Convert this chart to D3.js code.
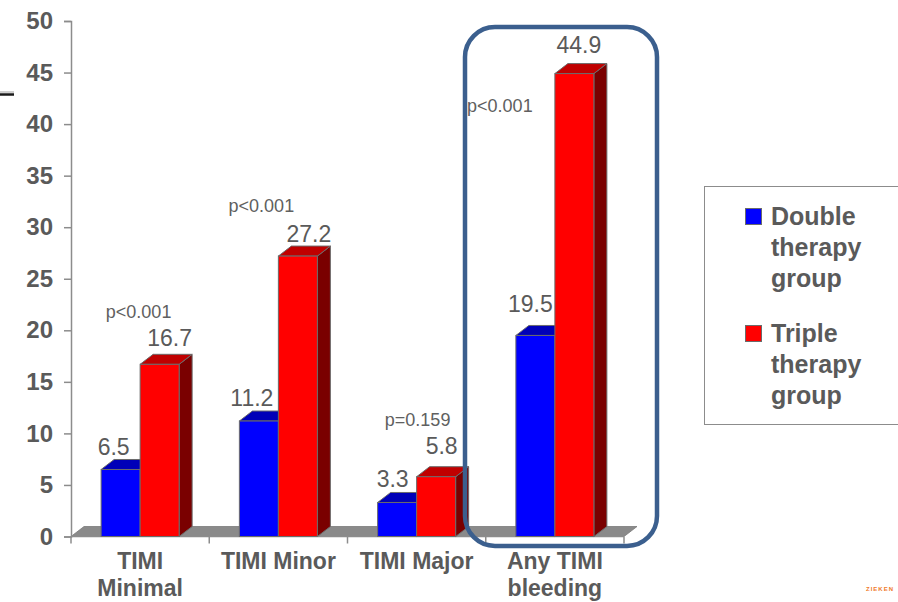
<!DOCTYPE html>
<html>
<head>
<meta charset="utf-8">
<script src="https://cdn.jsdelivr.net/npm/d3@7"></script>
<style>
  html, body { margin: 0; padding: 0; background: #fff; }
  svg { display: block; font-family: "Liberation Sans", Arial, Helvetica, sans-serif; }
</style>
</head>
<body>
<svg id="chart" width="898" height="602"></svg>
<script>
// Bleeding endpoints (%) by treatment group
const categories = [["TIMI", "Minimal"], ["TIMI Minor"], ["TIMI Major"], ["Any TIMI", "bleeding"]];
const doubleTherapy = [6.5, 11.2, 3.3, 19.5];
const tripleTherapy = [16.7, 27.2, 5.8, 44.9];
const pValues = ["p<0.001", "p<0.001", "p=0.159", "p<0.001"];
const yTicks = [0, 5, 10, 15, 20, 25, 30, 35, 40, 45, 50];
const seriesNames = [["Double", "therapy", "group"], ["Triple", "therapy", "group"]];

// Layout constants
const W = 898, H = 602;
const x0 = 71, x1 = 624, yTop = 21, yBase = 536.5;
const depth = { dx: 13, dy: -10 };
const barW = 39;
const textGray = "#5a5a5a";
const colors = {
  double: { front: "#0000ff", top: "#0000b8", side: "#00007a" },
  triple: { front: "#ff0000", top: "#c00000", side: "#7a0000" }
};
// value-label placement (lift above bar top, horizontal nudge)
const labelLift = { double: [14, 15, 15, 23], triple: [18, 14, 23, 21] };
const labelShift = { double: [-7, -7, -4.5, -5], triple: [10, 11, 5.5, 4.5] };
// p-value placement relative to category centre and triple bar top
const pOffset = [{ dx: -1.5, dy: -46 }, { dx: -17, dy: -44 }, { dx: 1, dy: -51 }, { dx: -55, dy: 38.5 }];

const svg = d3.select("#chart");

const x = d3.scaleBand().domain(d3.range(categories.length)).range([x0, x1]).padding(0);
const y = d3.scaleLinear().domain([0, 50]).range([yBase, yTop]);

// small slide decoration at the left edge
svg.append("line").attr("x1", 0).attr("x2", 14).attr("y1", 92).attr("y2", 92)
  .attr("stroke", "#cfcfcf").attr("stroke-width", 2);
svg.append("line").attr("x1", 0).attr("x2", 14).attr("y1", 94.5).attr("y2", 94.5)
  .attr("stroke", "#1a1a1a").attr("stroke-width", 2.5);

// 3D floor
const floorPts = [[x0, yBase], [x1, yBase], [x1 + depth.dx, yBase + depth.dy], [x0 + depth.dx, yBase + depth.dy]];
svg.append("polygon")
  .attr("points", floorPts.map(p => p.join(",")).join(" "))
  .attr("fill", "#8a8a8a").attr("stroke", "#7a7a7a").attr("stroke-width", 0.8);

// Axes
const yAxis = d3.axisLeft(y).tickValues(yTicks).tickSize(7).tickPadding(11).tickFormat(d3.format("d"));
const gy = svg.append("g").attr("transform", `translate(${x0},0)`).call(yAxis);
gy.select(".domain").attr("stroke", "#8c8c8c").attr("stroke-width", 1.5);
gy.selectAll(".tick line").attr("stroke", "#8c8c8c").attr("stroke-width", 1.5);
gy.selectAll(".tick text")
  .attr("fill", textGray).attr("font-size", 24).attr("font-weight", "bold")
  .attr("font-family", "'Liberation Sans', Arial, sans-serif");

const xEdges = d3.range(categories.length + 1).map(i => i < categories.length ? x(i) : x1);
const gx = svg.append("g");
gx.append("line").attr("x1", x0).attr("x2", x1).attr("y1", yBase).attr("y2", yBase)
  .attr("stroke", "#8c8c8c").attr("stroke-width", 1.5);
gx.selectAll("line.tick").data(xEdges).join("line").attr("class", "tick")
  .attr("x1", d => d).attr("x2", d => d).attr("y1", yBase).attr("y2", yBase + 7)
  .attr("stroke", "#8c8c8c").attr("stroke-width", 1.5);

// Category labels
categories.forEach((lines, i) => {
  const cx = x(i) + x.bandwidth() / 2;
  const t = svg.append("text").attr("text-anchor", "middle")
    .attr("fill", textGray).attr("font-size", 23).attr("font-weight", "bold");
  lines.forEach((ln, k) => t.append("tspan").attr("x", cx).attr("y", 569 + k * 27).text(ln));
});

// 3D bar helper
function bar3d(g, left, v, c) {
  const xl = left, xr = left + barW, yt = y(v), yb = y(0);
  const side = [[xr, yb], [xr + depth.dx, yb + depth.dy], [xr + depth.dx, yt + depth.dy], [xr, yt]];
  const top = [[xl, yt], [xr, yt], [xr + depth.dx, yt + depth.dy], [xl + depth.dx, yt + depth.dy]];
  const pts = a => a.map(p => p.join(",")).join(" ");
  g.append("polygon").attr("points", pts(side)).attr("fill", c.side)
    .attr("stroke", "#6b6b6b").attr("stroke-width", 1).attr("stroke-linejoin", "round");
  g.append("polygon").attr("points", pts(top)).attr("fill", c.top)
    .attr("stroke", "#6b6b6b").attr("stroke-width", 1).attr("stroke-linejoin", "round");
  g.append("rect").attr("x", xl).attr("y", yt).attr("width", barW).attr("height", yb - yt)
    .attr("fill", c.front).attr("stroke", "#6b6b6b").attr("stroke-width", 1);
}

const bars = svg.append("g");
categories.forEach((_, i) => {
  const cx = x(i) + x.bandwidth() / 2;
  bar3d(bars, cx - barW, doubleTherapy[i], colors.double);
  bar3d(bars, cx, tripleTherapy[i], colors.triple);
});

// Value labels
const labels = svg.append("g").attr("fill", textGray).attr("font-size", 23).attr("text-anchor", "middle");
categories.forEach((_, i) => {
  const cx = x(i) + x.bandwidth() / 2;
  labels.append("text")
    .attr("x", cx - barW / 2 + labelShift.double[i])
    .attr("y", y(doubleTherapy[i]) - labelLift.double[i])
    .text(doubleTherapy[i].toFixed(1));
  labels.append("text")
    .attr("x", cx + barW / 2 + labelShift.triple[i])
    .attr("y", y(tripleTherapy[i]) - labelLift.triple[i])
    .text(tripleTherapy[i].toFixed(1));
});

// p-values
const pg = svg.append("g").attr("fill", "#606060").attr("font-size", 18).attr("text-anchor", "middle");
pValues.forEach((p, i) => {
  const cx = x(i) + x.bandwidth() / 2;
  pg.append("text")
    .attr("x", cx + pOffset[i].dx)
    .attr("y", y(tripleTherapy[i]) + pOffset[i].dy)
    .text(p);
});

// Highlight frame around "Any TIMI bleeding"
svg.append("rect")
  .attr("x", 465).attr("y", 27).attr("width", 192).attr("height", 519)
  .attr("rx", 30).attr("ry", 30)
  .attr("fill", "none").attr("stroke", "#3b5f8e").attr("stroke-width", 4.5);

// Legend
const lg = svg.append("g");
lg.append("rect").attr("x", 704.5).attr("y", 186.5).attr("width", 210).attr("height", 238)
  .attr("fill", "#fff").attr("stroke", "#8c8c8c").attr("stroke-width", 1);
const legendColors = [colors.double.front, colors.triple.front];
seriesNames.forEach((lines, k) => {
  const top = 208 + k * 117;
  lg.append("rect").attr("x", 745.5).attr("y", top + 0.5).attr("width", 16).attr("height", 16)
    .attr("fill", legendColors[k]).attr("stroke", "#6b6b6b").attr("stroke-width", 1);
  const t = lg.append("text").attr("fill", textGray).attr("font-size", 25).attr("font-weight", "bold");
  lines.forEach((ln, j) => t.append("tspan").attr("x", 771).attr("y", top + 17 + j * 31).text(ln));
});

// footer mark
svg.append("text").attr("x", 866).attr("y", 591).attr("font-size", 6).attr("font-weight", "bold")
  .attr("letter-spacing", 1).attr("fill", "#f07a2a").text("ZIEKEN");
</script>
</body>
</html>
